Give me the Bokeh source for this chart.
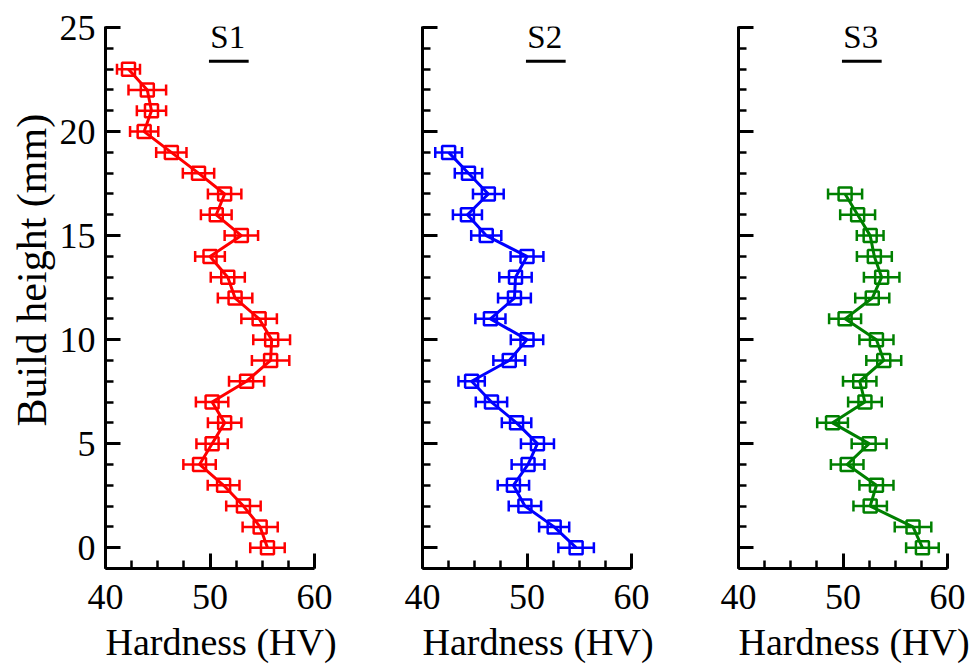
import numpy as np
from bokeh.plotting import figure
from bokeh.models import (ColumnDataSource, Range1d, FixedTicker, Whisker, TeeHead,
                          Label, Title, CustomJSTickFormatter)
from bokeh.layouts import row
from bokeh.embed import file_html
from bokeh.resources import INLINE

# ---------------- data ----------------
s1_height = [0, 1, 2, 3, 4, 5, 6, 7, 8, 9, 10, 11, 12, 13, 14, 15, 16, 17, 18, 19, 20, 21, 22, 23]
s1_hv = [55.5, 54.8, 53.2, 51.3, 49.0, 50.2, 51.4, 50.2, 53.5, 55.8, 55.9, 54.7,
         52.4, 51.7, 50.0, 53.0, 50.6, 51.4, 48.9, 46.3, 43.7, 44.4, 44.0, 42.2]
s1_err = [1.65, 1.68, 1.65, 1.52, 1.55, 1.5, 1.6, 1.55, 1.68, 1.79, 1.76, 1.7,
          1.65, 1.63, 1.42, 1.6, 1.47, 1.6, 1.5, 1.45, 1.35, 1.4, 1.8, 1.1]

s2_height = [0, 1, 2, 3, 4, 5, 6, 7, 8, 9, 10, 11, 12, 13, 14, 15, 16, 17, 18, 19]
s2_hv = [54.7, 52.6, 49.8, 48.7, 50.1, 51.0, 49.0, 46.6, 44.7, 48.3, 50.0, 46.5,
         48.8, 48.9, 50.0, 46.1, 44.3, 46.3, 44.4, 42.5]
s2_err = [1.7, 1.44, 1.55, 1.5, 1.57, 1.58, 1.41, 1.5, 1.26, 1.52, 1.55, 1.44,
          1.57, 1.55, 1.57, 1.44, 1.39, 1.47, 1.31, 1.28]

s3_height = [0, 1, 2, 3, 4, 5, 6, 7, 8, 9, 10, 11, 12, 13, 14, 15, 16, 17]
s3_hv = [57.6, 56.7, 52.6, 53.2, 50.4, 52.5, 49.0, 52.1, 51.6, 53.9, 53.2, 50.2,
         52.8, 53.7, 53.0, 52.6, 51.4, 50.2]
s3_err = [1.56, 1.75, 1.6, 1.63, 1.56, 1.67, 1.47, 1.61, 1.6, 1.67, 1.63, 1.53,
          1.63, 1.7, 1.67, 1.28, 1.67, 1.63]

sample_names = ["S1", "S2", "S3"]
series_colors = ["#FF0000", "#0000FF", "#008000"]
x_ticks = [40, 50, 60]
y_ticks = [0, 5, 10, 15, 20, 25]
x_label = "Hardness (HV)"
y_label = "Build height (mm)"

FONT = "Liberation Serif"

series = [(s1_height, s1_hv, s1_err), (s2_height, s2_hv, s2_err), (s3_height, s3_hv, s3_err)]
borders = [(105, 54), (54, 54), (53, 26)]

panels = []
for i, ((h, hv, err), name, col, (bl, br)) in enumerate(zip(series, sample_names, series_colors, borders)):
    p = figure(frame_width=209, frame_height=542, output_backend="svg", toolbar_location=None,
               x_range=Range1d(40, 60), y_range=Range1d(-1, 25.05),
               min_border_left=bl, min_border_right=br, min_border_top=26, min_border_bottom=99,
               x_axis_location="below", y_axis_location="left")
    p.outline_line_color = None
    p.grid.visible = False
    p.background_fill_color = "white"
    p.border_fill_color = "white"

    p.xaxis.ticker = FixedTicker(ticks=x_ticks, minor_ticks=list(np.arange(40, 60.01, 2.5)))
    p.yaxis.ticker = FixedTicker(ticks=y_ticks, minor_ticks=list(range(-1, 26)))
    for ax in (p.xaxis[0], p.yaxis[0]):
        ax.axis_line_width = 3
        ax.axis_line_color = "black"
        ax.major_tick_in = 15
        ax.major_tick_out = 0
        ax.minor_tick_in = 8
        ax.minor_tick_out = 0
        ax.major_tick_line_width = 3
        ax.minor_tick_line_width = 2.5
        ax.major_tick_line_color = "black"
        ax.minor_tick_line_color = "black"
        ax.major_label_text_font = FONT
        ax.major_label_text_font_size = "36px"
        ax.major_label_text_color = "black"
    p.xaxis.major_label_standoff = 16
    p.yaxis.major_label_standoff = 10
    if i > 0:
        p.yaxis.formatter = CustomJSTickFormatter(code="return ''")

    src = ColumnDataSource(dict(y=h, x=hv, lo=[a - b for a, b in zip(hv, err)],
                                hi=[a + b for a, b in zip(hv, err)]))
    p.line("x", "y", source=src, line_color=col, line_width=3)
    wh = Whisker(source=src, base="y", lower="lo", upper="hi", dimension="width",
                 line_color=col, line_width=2.5,
                 upper_head=TeeHead(size=11, line_color=col, line_width=2.5),
                 lower_head=TeeHead(size=11, line_color=col, line_width=2.5))
    p.add_layout(wh)
    p.scatter("x", "y", source=src, marker="square", size=13, fill_color=None,
              line_color=col, line_width=2.5)

    # sample tag with underline
    p.add_layout(Label(x=51.7, y=24.55, text=name, text_align="center", text_baseline="alphabetic",
                       text_font=FONT, text_font_size="33px", text_color="black"))
    p.segment(x0=[49.9], y0=[23.38], x1=[53.7], y1=[23.38], line_color="black", line_width=3)

    # x axis title
    p.add_layout(Title(text=x_label, align="left", offset=0, standoff=14,
                       text_font=FONT, text_font_size="38px", text_font_style="normal",
                       text_color="black"), "below")
    if i == 0:
        p.add_layout(Title(text=y_label, align="left", offset=142, standoff=4,
                           text_font=FONT, text_font_size="42px", text_font_style="normal",
                           text_color="black"), "left")
    panels.append(p)

layout = row(*panels, spacing=0)
open("out.html", "w").write(file_html(layout, INLINE))
